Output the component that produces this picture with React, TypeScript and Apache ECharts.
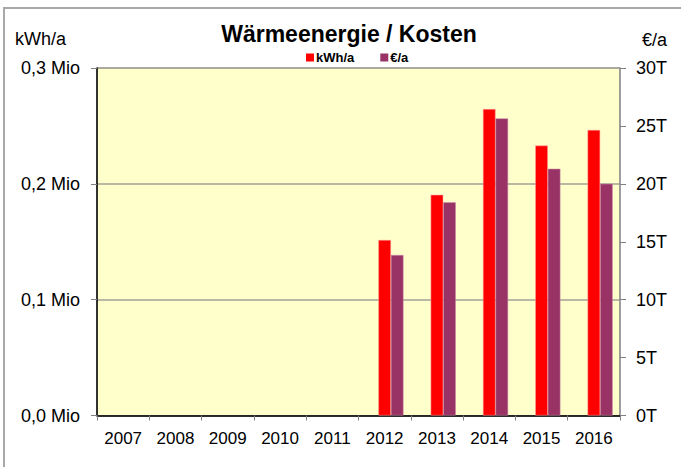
import React, { useEffect, useRef } from "react";
import * as echarts from "echarts";

const years = ["2007", "2008", "2009", "2010", "2011", "2012", "2013", "2014", "2015", "2016"];
const kwhValues = [null, null, null, null, null, 151500, 190500, 264500, 233000, 246500];
const euroValues = [null, null, null, null, null, 13850, 18400, 25650, 21300, 20000];
const spacerValues = [null, null, null, null, null, null, null, null, null, null];

const FONT = "'Liberation Sans', Arial, sans-serif";

export default function App() {
  const ref = useRef<HTMLDivElement>(null);
  useEffect(() => {
    if (!ref.current) return;
    const chart = echarts.init(ref.current, null, { renderer: "svg" });
    chart.setOption({
      animation: false,
      backgroundColor: "#ffffff",
      textStyle: { fontFamily: FONT },
      title: {
        text: "Wärmeenergie / Kosten",
        left: 344,
        top: 17,
        textAlign: "center",
        textStyle: { fontSize: 23, fontWeight: "bold", color: "#000", fontFamily: FONT },
      },
      legend: {
        data: ["kWh/a", "€/a"],
        left: 301,
        top: 46,
        itemWidth: 8,
        itemHeight: 8,
        itemGap: 26,
        icon: "rect",
        itemStyle: { borderWidth: 0 },
        textStyle: { fontSize: 13, fontWeight: "bold", color: "#000", fontFamily: FONT, padding: [0, 0, 0, -3] },
      },
      graphic: [
        {
          type: "rect",
          shape: { x: 4, y: 8, width: 700, height: 500 },
          style: { fill: "none", stroke: "#a8a8a8", lineWidth: 2 },
          silent: true,
        },
        {
          type: "text",
          left: 15,
          top: 30,
          style: { text: "kWh/a", fontSize: 18, fill: "#000", fontFamily: FONT },
        },
        {
          type: "text",
          left: 642,
          top: 31,
          style: { text: "€/a", fontSize: 18, fill: "#000", fontFamily: FONT },
        },
      ],
      grid: {
        left: 97,
        right: 61,
        top: 68,
        bottom: 51.5,
        show: true,
        backgroundColor: "#FFFFCC",
        borderColor: "#909090",
        borderWidth: 1,
      },
      xAxis: {
        type: "category",
        data: years,
        axisLine: { lineStyle: { color: "#000", width: 1.5 } },
        axisTick: { show: true, alignWithLabel: false, length: 5, lineStyle: { color: "#808080" } },
        axisLabel: { fontSize: 17, color: "#000", margin: 14, fontFamily: FONT, interval: 0 },
      },
      yAxis: [
        {
          type: "value",
          min: 0,
          max: 300000,
          interval: 100000,
          position: "left",
          axisLine: { show: true, lineStyle: { color: "#000", width: 1.5 } },
          axisTick: { show: true, length: 6, lineStyle: { color: "#808080" } },
          splitLine: { show: true, lineStyle: { color: "#a0a096", width: 1.5 } },
          axisLabel: {
            fontSize: 18,
            color: "#000",
            margin: 17,
            fontFamily: FONT,
            formatter: (v: number) => (v / 1e6).toFixed(1).replace(".", ",") + " Mio",
          },
        },
        {
          type: "value",
          min: 0,
          max: 30000,
          interval: 5000,
          position: "right",
          axisLine: { show: true, lineStyle: { color: "#909090", width: 1.5 } },
          axisTick: { show: true, length: 6, lineStyle: { color: "#808080" } },
          splitLine: { show: false },
          axisLabel: {
            fontSize: 18,
            color: "#000",
            margin: 16,
            fontFamily: FONT,
            formatter: (v: number) => v / 1000 + "T",
          },
        },
      ],
      series: [
        {
          name: "_spacer",
          type: "bar",
          yAxisIndex: 0,
          data: spacerValues,
          barGap: "0%",
          barCategoryGap: "28%",
          itemStyle: { color: "transparent" },
        },
        {
          name: "kWh/a",
          type: "bar",
          yAxisIndex: 0,
          data: kwhValues,
          barGap: "0%",
          barCategoryGap: "28%",
          itemStyle: { color: "#FF0000", borderColor: "#ff9c9c", borderWidth: 0.5 },
        },
        {
          name: "€/a",
          type: "bar",
          yAxisIndex: 1,
          data: euroValues,
          barGap: "0%",
          barCategoryGap: "28%",
          itemStyle: { color: "#993366", borderColor: "#c88aa8", borderWidth: 0.5 },
        },
      ],
    });
    return () => chart.dispose();
  }, []);
  return (
    <div
      ref={ref}
      style={{ position: "fixed", left: 0, top: 0, width: 681, height: 467 }}
    />
  );
}
